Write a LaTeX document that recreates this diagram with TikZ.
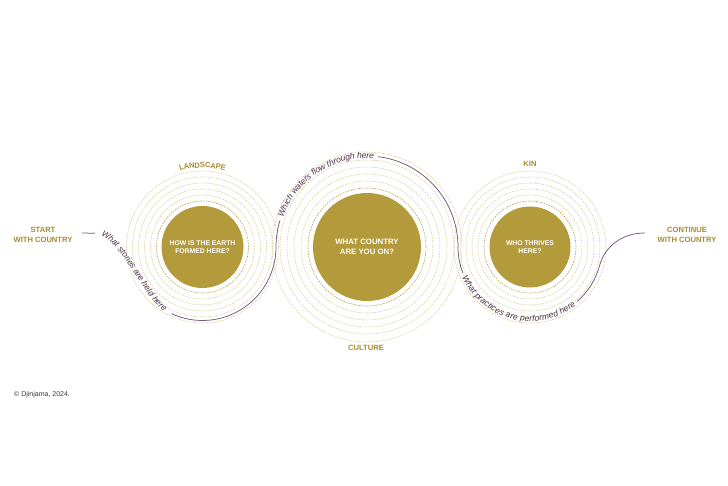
\documentclass[tikz,border=0pt]{standalone}
\usepackage{fontspec}
\setmainfont{Liberation Sans}
\usetikzlibrary{decorations.text,calc}
\definecolor{gold}{HTML}{B39A3A}
\definecolor{goldtext}{HTML}{A88B2C}
\definecolor{ringc}{HTML}{D9CC98}
\definecolor{ringdark}{HTML}{B9A14C}
\definecolor{pathc}{HTML}{76587A}
\definecolor{pathtext}{HTML}{4E3049}
\definecolor{copyc}{HTML}{3A3A3A}
\newcommand\pfont{\fontsize{8.5}{10}\selectfont\itshape}
\newcommand\lfont{\fontsize{7.6}{10}\selectfont\bfseries}
\begin{document}
\begin{tikzpicture}[x=1pt,y=1pt,
  fillcirc/.style={circle, fill=gold, draw=none, inner sep=0pt, text=white, align=center, font=\fontsize{6.8}{8.5}\selectfont\bfseries},
  ring/.style={draw=ringc, line width=0.55pt, dash pattern=on 1.6pt off 1.1pt},
  ringdk/.style={draw=ringdark, line width=0.6pt, dash pattern=on 1.6pt off 1.1pt},
  route/.style={draw=pathc, line width=0.75pt},
  lbl/.style={text=goldtext, align=center, font=\lfont, inner sep=0pt},
  pathlabel/.style={decorate, decoration={text along path, text align=center, raise=-2.2pt, text color=pathtext}},
]
\useasboundingbox (0,0) rectangle (728,485);
\fill[white] (0,0) rectangle (728,485);

\coordinate (Lc) at (202.5,238);
\coordinate (Cc) at (367,238);
\coordinate (Rc) at (530,238);

% rings
\foreach \r in {52,58,64,70,76} {
  \draw[ring] (Lc) circle[radius=\r];
  \draw[ring] (Rc) circle[radius=\r];
}
\draw[ringdk] (Lc) circle[radius=46];
\draw[ringdk] (Rc) circle[radius=46];
\foreach \r in {66,73,80,87,95} {
  \draw[ring] (Cc) circle[radius=\r];
}
\draw[ringdk] (Cc) circle[radius=59];

% filled circles
\node[fillcirc, minimum size=82pt] (L) at (Lc) {HOW IS THE EARTH\\FORMED HERE?};
\node[fillcirc, minimum size=108pt, font=\fontsize{7.8}{10}\selectfont\bfseries] (C) at (Cc) {WHAT COUNTRY\\ARE YOU ON?};
\node[fillcirc, minimum size=81pt] (R) at (Rc) {WHO THRIVES\\HERE?};

% labels
\node[lbl] (start) at (43,250) {START\\WITH COUNTRY};
\node[lbl] (cont) at (687,250) {CONTINUE\\WITH COUNTRY};
\node[lbl] (kin) at (530,321) {KIN};
\node[lbl] (culture) at (366,137) {CULTURE};
\path[decorate, decoration={text along path, text align=center, raise=-2.7pt, text color=goldtext, text={|\lfont|LANDSCAPE}}]
  ($(Lc)+(130:82)$) arc[start angle=130, end angle=50, radius=82];
\node[anchor=west, inner sep=0pt, text=copyc, font=\fontsize{7}{8}\selectfont] (copy) at (14,90) {© Djinjama, 2024.};

% route
\coordinate (s0) at (82,252);
\coordinate (s1) at (95,252);
\coordinate (J1) at ($(Lc)+(245:73.5)$);
\coordinate (J2) at ($(Rc)+(345:72)$);
\coordinate (e0) at (645,252);

\draw[route] (s0) .. controls (88,252) and (92,251.5) .. (s1);
\path[pathlabel, decoration={text={|\pfont|What stories are held here}}]
  (s1) .. controls (124,252) and (144.2,184.1) .. (J1);
\draw[route] (J1) arc[start angle=245, end angle=360, radius=73.5]
  arc[start angle=180, end angle=163, radius=91];
\path[pathlabel, decoration={text={|\pfont|Which waters flow through here}}]
  ($(Cc)+(163:91)$) arc[start angle=163, end angle=83, radius=91];
\draw[route] ($(Cc)+(83:91)$) arc[start angle=83, end angle=0, radius=91]
  arc[start angle=180, end angle=201, radius=72];
\path[pathlabel, decoration={text={|\pfont|What practices are performed here}}]
  ($(Rc)+(201:72)$) arc[start angle=201, end angle=311, radius=72];
\draw[route] ($(Rc)+(311:72)$) arc[start angle=311, end angle=345, radius=72]
  .. controls +(75:20) and (622,252) .. (e0);
\end{tikzpicture}
\end{document}
